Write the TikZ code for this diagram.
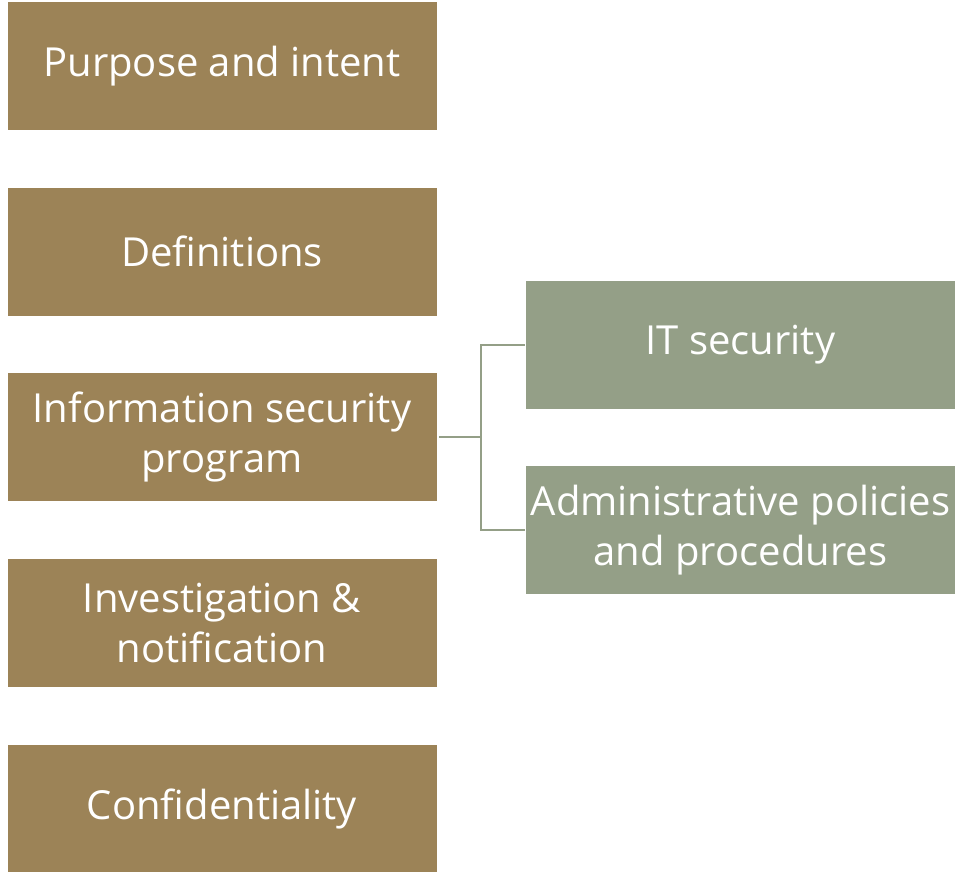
\documentclass[tikz,border=0pt]{standalone}
\usepackage{fontspec}
\setmainfont{Open Sans}
\definecolor{topicbrown}{HTML}{9C8357}
\definecolor{subgreen}{HTML}{949F87}
\begin{document}
\begin{tikzpicture}[x=1pt,y=-1pt,
  topic/.style={fill=topicbrown, draw=white, line width=0.8pt, minimum width=430pt, minimum height=129pt,
    inner sep=0pt, text=white, align=center, font=\fontsize{40}{50}\selectfont},
  subtopic/.style={topic, fill=subgreen},
  link/.style={draw=subgreen, line width=2pt}]
  \useasboundingbox (0,0) rectangle (956,871);
  \node[topic] (purpose) at (222,66) {Purpose and intent};
  \node[topic] (defs) at (222,251.5) {Definitions};
  \node[topic] (isp) at (222,437) {Information security\\program};
  \node[topic] (invest) at (222,623) {Investigation \&\\notification};
  \node[topic] (conf) at (222,808.5) {Confidentiality};
  \node[subtopic] (itsec) at (740.5,344.5) {IT security};
  \node[subtopic] (admin) at (740.5,530) {Administrative policies\\and procedures};
  \coordinate (fork) at (481,437);
  \draw[link] ([xshift=2pt]isp.east) -- (fork);
  \draw[link] (fork) |- (itsec.west);
  \draw[link] (fork) |- (admin.west);
\end{tikzpicture}
\end{document}
